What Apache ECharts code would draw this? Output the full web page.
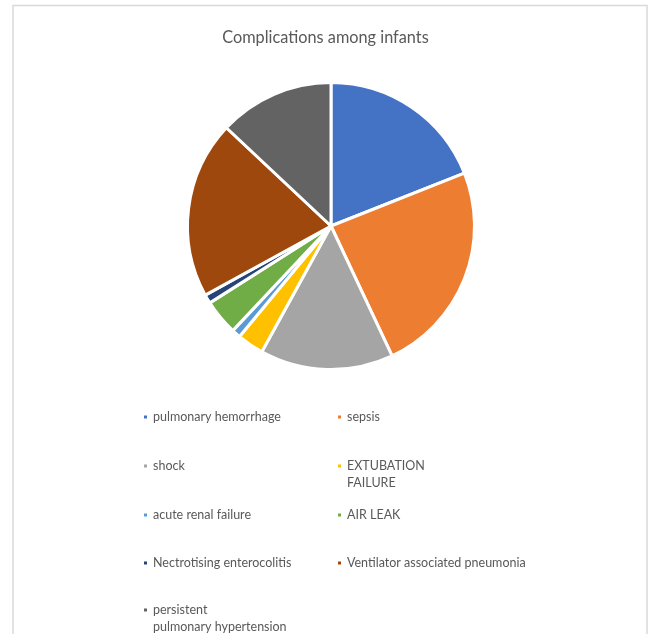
<!DOCTYPE html>
<html>
<head>
<meta charset="utf-8">
<script src="https://cdn.jsdelivr.net/npm/echarts@6/dist/echarts.min.js"></script>
<style>html,body{margin:0;padding:0;background:#fff}#c{width:651px;height:634px}</style>
</head>
<body>
<div id="c"></div>
<script>
const titleText = 'Complications among infants';
const categories = ['pulmonary hemorrhage','sepsis','shock','EXTUBATION FAILURE','acute renal failure','AIR LEAK','Nectrotising enterocolitis','Ventilator associated pneumonia','persistent pulmonary hypertension'];
const legendLabels = ['pulmonary hemorrhage','sepsis','shock','EXTUBATION\nFAILURE','acute renal failure','AIR LEAK','Nectrotising enterocolitis','Ventilator associated pneumonia','persistent\npulmonary hypertension'];
const values = [19, 24, 15, 3, 1, 4, 1, 20, 13];
const colors = ['#4472C4','#ED7D31','#A5A5A5','#FFC000','#5B9BD5','#70AD47','#264478','#9E480E','#636363'];

const FONT = 'Lato';
const LH = 16.5;
const colX = [142, 336];
const rowY = [417, 466, 515, 563, 610];

const legends = categories.map((name, i) => {
  const label = legendLabels[i];
  const extra = label.split('\n').length - 1;
  // pad with empty lines above so the marker sits on the first text line
  const shown = '\n'.repeat(extra) + label;
  const cy = rowY[Math.floor(i / 2)];
  return {
    data: [name],
    left: colX[i % 2],
    top: cy - LH / 2 - extra * LH,
    padding: 0,
    itemWidth: 5,
    itemHeight: 5,
    icon: 'rect',
    formatter: () => shown,
    textStyle: {fontFamily: FONT, fontSize: 12.5, color: '#595959', lineHeight: LH}
  };
});

const chart = echarts.init(document.getElementById('c'), null, {renderer: 'canvas'});
chart.setOption({
  animation: false,
  title: {
    text: titleText, left: 'center', top: 25,
    textStyle: {fontFamily: FONT, fontSize: 16.3, fontWeight: 'normal', color: '#595959'}
  },
  graphic: [{
    type: 'rect', shape: {x: 13, y: 5.5, width: 634, height: 700},
    style: {fill: 'none', stroke: '#d9d9d9', lineWidth: 1.5}, silent: true, z: -10
  }],
  legend: legends,
  series: [{
    type: 'pie',
    center: [331, 226],
    radius: 143.5,
    startAngle: 90,
    clockwise: true,
    label: {show: false},
    labelLine: {show: false},
    emphasis: {disabled: true},
    itemStyle: {borderColor: '#fff', borderWidth: 3},
    data: categories.map((n, i) => ({name: n, value: values[i], itemStyle: {color: colors[i]}}))
  }]
});
</script>
</body>
</html>
